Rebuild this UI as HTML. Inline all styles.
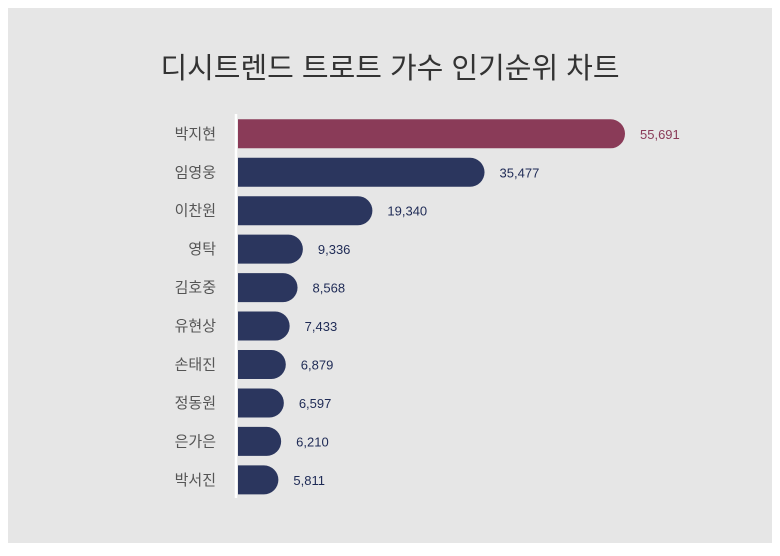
<!DOCTYPE html>
<html><head><meta charset="utf-8"><style>
body{margin:0;background:#fff;width:780px;height:551px;overflow:hidden;font-family:"Liberation Sans","Noto Sans CJK KR",sans-serif}
</style></head><body>
<svg width="780" height="551">
<rect x="8" y="8" width="764" height="535" fill="#e6e6e6"/>
<text x="390" y="78" text-anchor="middle" font-size="29" fill="#333" font-family="Liberation Sans, Noto Sans CJK KR, sans-serif">디시트렌드 트로트 가수 인기순위 차트</text>
<g id="bars"></g>
<line x1="236" y1="114" x2="236" y2="498" stroke="#fff" stroke-width="2.5"/>
</svg>
<script>
const categories=["박지현","임영웅","이찬원","영탁","김호중","유현상","손태진","정동원","은가은","박서진"];
const values=[55691,35477,19340,9336,8568,7433,6879,6597,6210,5811];
const labels=["55,691","35,477","19,340","9,336","8,568","7,433","6,879","6,597","6,210","5,811"];
const x0=238,xScale=v=>v*(387/55691);
const yC=i=>133.8+i*38.45,h=29;
const g=document.getElementById('bars');const ns="http://www.w3.org/2000/svg";
categories.forEach((c,i)=>{
 const w=xScale(values[i]),y=yC(i)-h/2,r=h/2,col=i===0?"#8a3b58":"#2b365e";
 const p=document.createElementNS(ns,'path');
 p.setAttribute('d',`M${x0},${y}H${x0+w-r}A${r},${r} 0 0 1 ${x0+w-r},${y+h}H${x0}Z`);
 p.setAttribute('fill',col);
 
 
 g.appendChild(p);
 const t=document.createElementNS(ns,'text');
 t.setAttribute('x',216);t.setAttribute('y',yC(i)+5);t.setAttribute('text-anchor','end');
 t.setAttribute('font-size','15');t.setAttribute('fill','#555');t.textContent=c;
 
 
 g.appendChild(t);
 const v=document.createElementNS(ns,'text');
 v.setAttribute('x',x0+w+15);v.setAttribute('y',yC(i)+5);
 v.setAttribute('font-size','13');v.setAttribute('fill',i===0?"#8a3b58":"#1e2a55");v.textContent=labels[i];
 
 
 g.appendChild(v);
});
</script>
</body></html>
